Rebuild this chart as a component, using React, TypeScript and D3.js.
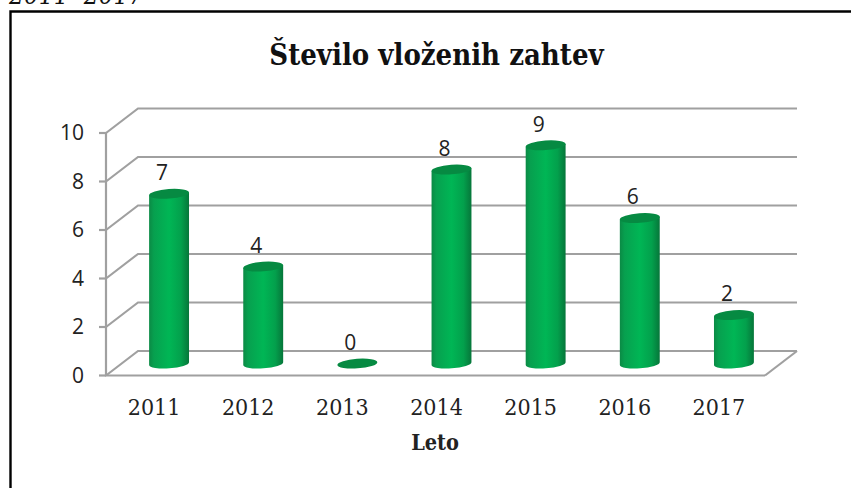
import * as d3 from "d3";

const WIDTH = 851;
const HEIGHT = 488;

const years = ["2011", "2012", "2013", "2014", "2015", "2016", "2017"];
const requests = [7, 4, 0, 8, 9, 6, 2];
const yTicks = [0, 2, 4, 6, 8, 10];

const SERIF = "'DejaVu Serif Condensed', 'DejaVu Serif', serif";
const SANS = "'Open Sans', 'Noto Sans', sans-serif";

// front plane of the fake 3D plot, the back wall is shifted by DEPTH
const FRONT = { left: 106, right: 765, top: 133, bottom: 375.5 };
const DEPTH = { x: 32, y: -24.5 };
const R_X = 20;
const R_Y = 4.8;
const TILT = -4;

export default function App() {
  const x = d3.scaleBand().domain(years).range([FRONT.left, FRONT.right]);
  const y = d3.scaleLinear().domain([0, 10]).range([FRONT.bottom, FRONT.top]);

  const dx = R_X * Math.cos((TILT * Math.PI) / 180);
  const dy = R_X * Math.sin((TILT * Math.PI) / 180);
  const gridColor = "#a0a0a0";

  return (
    <svg
      width={WIDTH}
      height={HEIGHT}
      style={{ position: "absolute", left: 0, top: 0, background: "#fff" }}
    >
      <defs>
        <linearGradient id="cyl" x1="0" x2="1" y1="0" y2="0">
          <stop offset="0" stopColor="#0b8a45" />
          <stop offset="0.12" stopColor="#07a04f" />
          <stop offset="0.5" stopColor="#00b655" />
          <stop offset="0.8" stopColor="#03a04c" />
          <stop offset="1" stopColor="#06763a" />
        </linearGradient>
      </defs>

      {/* text cut by the top edge in the source image */}
      <text x={9} y={4} fontFamily={SERIF} fontStyle="italic" fontSize={26} fill="#111">
        2011- 2017
      </text>

      <path d={`M10.5,488V11.5H851`} fill="none" stroke="#000" strokeWidth={2.4} />

      <text
        x={436.5}
        y={65}
        textAnchor="middle"
        fontFamily={SERIF}
        fontWeight="bold"
        fontSize={29}
        fill="#111"
      >
        Število vloženih zahtev
      </text>

      {/* grid */}
      <g stroke={gridColor} strokeWidth={2.2} fill="none">
        {yTicks.map((t) => (
          <path
            key={t}
            d={`M${FRONT.left},${y(t)}L${FRONT.left + DEPTH.x},${y(t) + DEPTH.y}H${
              FRONT.right + DEPTH.x
            }`}
          />
        ))}
        <path d={`M${FRONT.left},${FRONT.top}V${FRONT.bottom}H${FRONT.right}`} />
        <path
          d={`M${FRONT.right},${FRONT.bottom}L${FRONT.right + DEPTH.x},${FRONT.bottom + DEPTH.y}`}
        />
        {yTicks.map((t) => (
          <path key={t} d={`M${FRONT.left - 7},${y(t)}H${FRONT.left}`} />
        ))}
      </g>

      {/* y labels */}
      {yTicks.map((t) => (
        <text
          key={t}
          x={84}
          y={y(t)}
          dy="0.35em"
          textAnchor="end"
          fontFamily={SANS}
          fontSize={21}
          fill="#222"
        >
          {t}
        </text>
      ))}

      {/* cylinders */}
      {years.map((yr, i) => {
        const v = requests[i];
        const cx = x(yr)! + x.bandwidth() / 2 + DEPTH.x / 2;
        const base = y(0) + DEPTH.y / 2 + 0.3;
        const top = base - (y(0) - y(v));
        return (
          <g key={yr}>
            {v > 0 && (
              <path
                d={`M${cx - dx},${top - dy}L${cx - dx},${base - dy}A${R_X},${R_Y},${TILT},0,0,${
                  cx + dx
                },${base + dy}L${cx + dx},${top + dy}Z`}
                fill="url(#cyl)"
              />
            )}
            <ellipse
              cx={cx}
              cy={top}
              rx={R_X}
              ry={R_Y}
              fill="#068a42"
              transform={`rotate(${TILT},${cx},${top})`}
            />
          </g>
        );
      })}

      {/* data labels */}
      {years.map((yr, i) => (
        <text
          key={yr}
          x={x(yr)! + x.bandwidth() / 2 + 9}
          y={y(requests[i]) - 33}
          dy="0.35em"
          textAnchor="middle"
          fontFamily={SANS}
          fontSize={21}
          fill="#222"
        >
          {requests[i]}
        </text>
      ))}

      {/* x labels */}
      {years.map((yr) => (
        <text
          key={yr}
          x={x(yr)! + x.bandwidth() / 2 + 1}
          y={415}
          textAnchor="middle"
          fontFamily={SERIF}
          fontSize={23}
          fill="#222"
        >
          {yr}
        </text>
      ))}

      <text
        x={435}
        y={450}
        textAnchor="middle"
        fontFamily={SERIF}
        fontWeight="bold"
        fontSize={21.5}
        fill="#222"
      >
        Leto
      </text>
    </svg>
  );
}
